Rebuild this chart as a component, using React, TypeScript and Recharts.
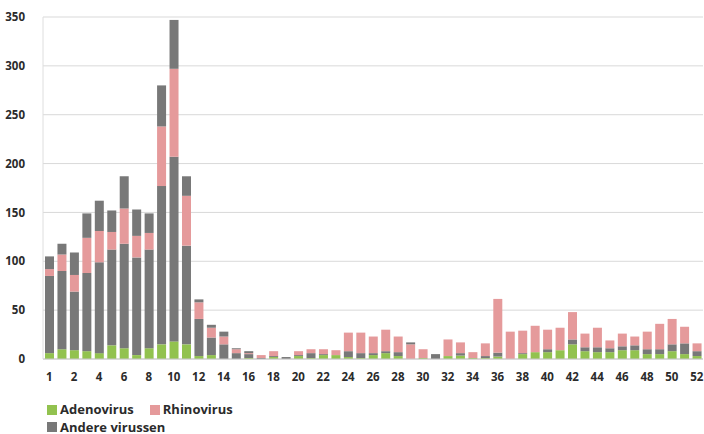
import { Bar, BarChart, CartesianGrid, XAxis, YAxis } from "recharts";

const weeks = [
  "1", "1", "2", "3", "4", "5", "6", "7", "8", "9", "10", "11", "12", "13", "14", "15", "16", "17",
  "18", "19", "20", "21", "22", "23", "24", "25", "26", "27", "28", "29", "30", "31", "32", "33",
  "34", "35", "36", "37", "38", "39", "40", "41", "42", "43", "44", "45", "46", "47", "48", "49",
  "50", "51", "52",
];

const adenovirus = [
  6, 10, 9, 8, 6, 14, 11, 4, 11, 15, 18, 15, 3, 4, 0, 0, 1, 0, 2, 0, 3, 1, 4, 4, 2, 1, 4, 6, 3, 0,
  1, 0, 3, 3.5, 1, 1, 2.5, 0, 5, 7, 7, 9, 15, 8, 7, 7, 9, 9, 5, 5, 8, 5, 3,
];

const andereOnder = [
  79, 80, 60, 80, 93, 98, 107, 100, 101, 162, 189, 101, 38, 18, 15, 6, 4, 1, 1, 2, 1, 5, 1, 0, 6, 5,
  2, 2, 4, 0, 0, 5, 0, 2.5, 0, 2, 4, 0, 1, 0, 3, 0, 5, 4, 5, 4, 4, 5, 5, 5, 7, 11, 5,
];

const rhinovirus = [
  7, 17, 17, 36, 32, 18, 36, 22, 17, 61, 90, 51, 17, 10, 8, 4, 1, 3, 5, 0, 4, 4, 5, 5, 19, 21, 17,
  22, 16, 15, 9, 0, 17, 11, 6, 13, 55, 28, 23, 27, 20, 23, 28, 14, 20, 8, 13, 9, 18, 26, 26, 17, 8,
];

const andereBoven = [
  13, 11, 23, 25, 31, 22, 33, 27, 20, 42, 50, 20, 3, 3, 5, 1, 2, 0, 0, 0, 0, 0, 0, 0, 0, 0, 0, 0, 0,
  2, 0, 0, 0, 0, 0, 0, 0, 0, 0, 0, 0, 0, 0, 0, 0, 0, 0, 0, 0, 0, 0, 0, 0,
];

const yTicks = [0, 50, 100, 150, 200, 250, 300, 350];

const data = weeks.map((week, i) => ({
  week,
  adeno: adenovirus[i],
  onder: andereOnder[i],
  rhino: rhinovirus[i],
  boven: andereBoven[i],
}));

const GREEN = "#92c24f";
const PINK = "#e59a9b";
const GREY = "#787878";

const tickStyle = { fill: "#2b2b2b", fontSize: 11.5, fontWeight: 700, fontFamily: "'Open Sans', sans-serif" };

function LegendBox() {
  const item = (color: string, label: string) => (
    <span style={{ display: "inline-flex", alignItems: "center", marginRight: 16 }}>
      <span style={{ width: 10, height: 10, background: color, marginRight: 3 }} />
      {label}
    </span>
  );
  return (
    <div
      style={{
        position: "absolute",
        left: 47,
        top: 401,
        fontFamily: "'Open Sans', sans-serif",
        fontSize: 13,
        fontWeight: 700,
        color: "#2b2b2b",
        lineHeight: "17px",
        width: 260,
      }}
    >
      <div>
        {item(GREEN, "Adenovirus")}
        {item(PINK, "Rhinovirus")}
      </div>
      <div>{item(GREY, "Andere virussen")}</div>
    </div>
  );
}

export default function App() {
  return (
    <div style={{ position: "absolute", left: 0, top: 0, width: 704, height: 434, background: "#fff" }}>
      <BarChart width={704} height={434} data={data} margin={{ top: 17, right: 1, left: 0, bottom: 55 }}>
        <CartesianGrid stroke="#d9d9d9" vertical={false} />
        <XAxis
          dataKey="week"
          interval={1}
          tick={tickStyle}
          tickLine={false}
          tickSize={6}
          tickMargin={8}
          height={20}
          axisLine={{ stroke: "#c8c8c8" }}
        />
        <YAxis
          domain={[0, 350]}
          ticks={yTicks}
          width={43}
          tick={tickStyle}
          tickLine={false}
          tickSize={8}
          tickMargin={10}
          axisLine={{ stroke: "#dedede" }}
        />
        <Bar dataKey="adeno" stackId="a" fill={GREEN} barSize={9} isAnimationActive={false} />
        <Bar dataKey="onder" stackId="a" fill={GREY} barSize={9} isAnimationActive={false} />
        <Bar dataKey="rhino" stackId="a" fill={PINK} barSize={9} isAnimationActive={false} />
        <Bar dataKey="boven" stackId="a" fill={GREY} barSize={9} isAnimationActive={false} />
      </BarChart>
      <LegendBox />
    </div>
  );
}
